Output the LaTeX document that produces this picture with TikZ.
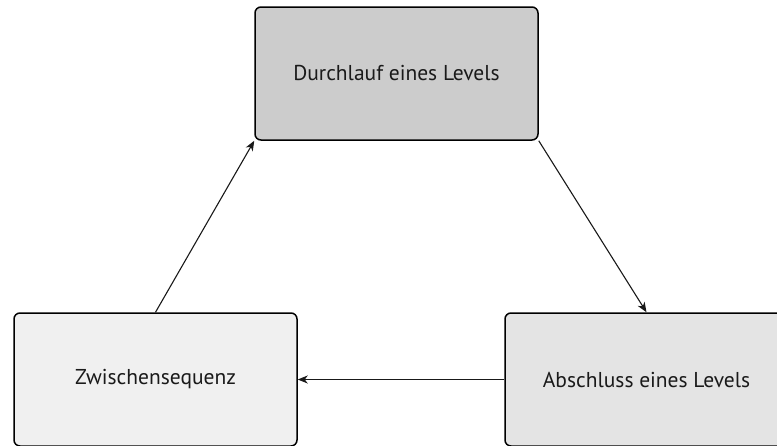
\documentclass[tikz,border=0pt]{standalone}
\usepackage{fontspec}
\setmainfont{PT Sans}
\usetikzlibrary{arrows.meta}
\definecolor{fillA}{HTML}{CCCCCC}
\definecolor{fillB}{HTML}{F0F0F0}
\definecolor{fillC}{HTML}{E4E4E4}
\definecolor{txt}{HTML}{1A1A1A}
\tikzset{
  stage/.style={draw=black, line width=1.5pt, rounded corners=6pt, inner sep=0pt,
    text=txt, font=\fontsize{21.5}{24}\selectfont},
  flow/.style={draw=black!90, line width=1.1pt, -{Stealth[length=10pt,width=8pt,inset=3pt]}}
}
\begin{document}
\begin{tikzpicture}[x=1pt,y=-1pt]
\useasboundingbox (0,0) rectangle (777,445);
\begin{scope}
\clip (0,0) rectangle (777,445);
\node[stage, fill=fillA, minimum width=283pt, minimum height=133pt] (dl) at (396.5,73.5) {Durchlauf eines Levels};
\node[stage, fill=fillB, minimum width=283pt, minimum height=133pt] (zw) at (155.5,379.5) {Zwischensequenz};
\node[stage, fill=fillC, minimum width=283pt, minimum height=133pt] (ab) at (646.5,379.5) {Abschluss eines Levels};
\draw[flow] (zw.north) -- (dl.south west);
\draw[flow] (dl.south east) -- (ab.north);
\draw[flow] (ab.west) -- (zw.east);
\end{scope}
\end{tikzpicture}
\end{document}
